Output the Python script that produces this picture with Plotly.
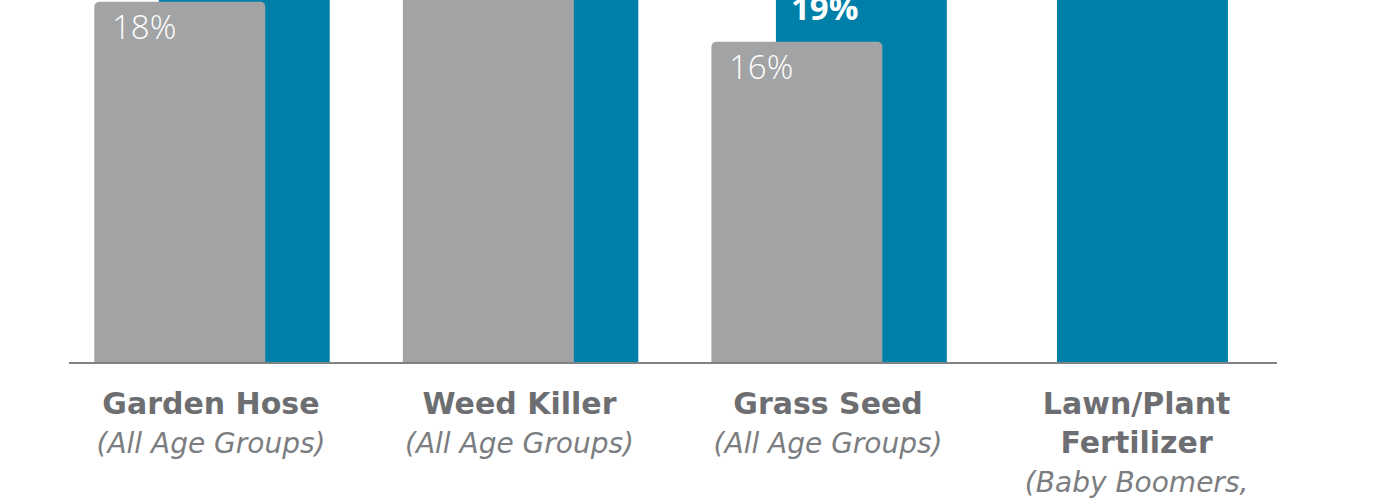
import plotly.graph_objects as go

categories = ["Garden Hose", "Weed Killer", "Grass Seed", "Lawn/Plant<br>Fertilizer"]
subtitles = ["(All Age Groups)", "(All Age Groups)", "(All Age Groups)", "(Baby Boomers,"]
grey_values = [18, 22, 16, None]
blue_values = [24, 27, 19, 25]

GREY = "#a2a3a5"
BLUE = "#0080a9"
LABEL = "#6d6e71"
SUB = "#7b7d80"
YMAX = 18.09
LABEL_LIMIT = YMAX + 1.5  # labels of taller bars fall outside the visible canvas

idx = list(range(len(categories)))
bar_w = 0.554
grey_off = [-0.378] * 4
blue_off = [-0.169, -0.169, -0.169, -0.258]

fig = go.Figure()
fig.add_trace(go.Bar(x=idx, y=blue_values, offset=blue_off, width=bar_w,
                     marker=dict(color=BLUE, cornerradius=5, line=dict(width=0)),
                     hoverinfo="skip"))
fig.add_trace(go.Bar(x=idx, y=grey_values, offset=grey_off, width=bar_w,
                     marker=dict(color=GREY, cornerradius=5, line=dict(width=0)),
                     hoverinfo="skip"))

for i in idx:
    g = grey_values[i]
    b = blue_values[i]
    if g is not None and g <= LABEL_LIMIT:
        fig.add_annotation(x=i + grey_off[i], y=g / YMAX, xref="x", yref="y domain",
                           text=f"{g}%", showarrow=False,
                           xanchor="left", yanchor="top", xshift=16, yshift=0,
                           font=dict(family="Open Sans", size=33, color="white", weight=300))
    if b is not None and b <= LABEL_LIMIT:
        fig.add_annotation(x=i + blue_off[i], y=b / YMAX, xref="x", yref="y domain",
                           text=f"<b>{b}%</b>", showarrow=False,
                           xanchor="left", yanchor="top", xshift=13, yshift=-1,
                           font=dict(family="Open Sans", size=33, color="white"))

ticktext = [f"<b>{c}</b><br><span style='font-family:DejaVu Sans;font-style:italic;"
            f"font-weight:200;font-size:28px;fill:{SUB}'>{s}</span>"
            for c, s in zip(categories, subtitles)]

fig.update_layout(
    width=1394, height=499,
    margin=dict(l=69, r=117, t=0, b=134),
    paper_bgcolor="white", plot_bgcolor="white",
    barmode="overlay", showlegend=False,
    xaxis=dict(range=[-0.460, 3.455], tickvals=idx, ticktext=ticktext,
               showgrid=False, zeroline=False, showline=True,
               linecolor="#808285", linewidth=2, ticks="",
               ticklabelstandoff=14,
               tickfont=dict(family="DejaVu Sans", size=30, color=LABEL)),
    yaxis=dict(range=[0, YMAX], visible=False, showgrid=False, zeroline=False),
)

fig.write_html("out.html")
